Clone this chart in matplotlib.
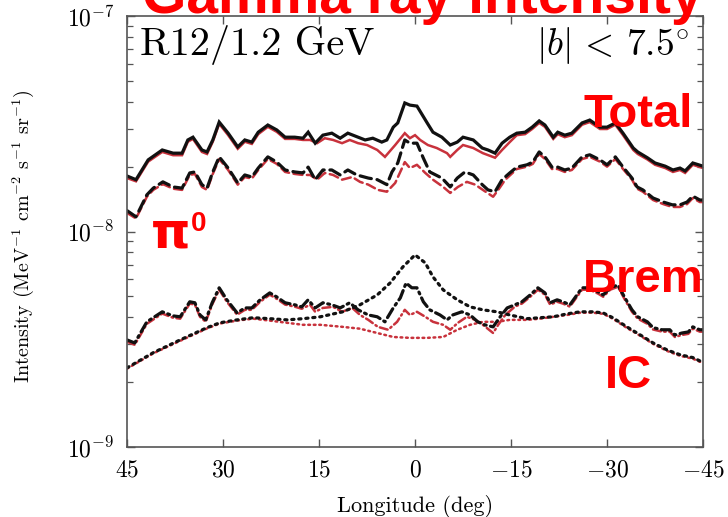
import matplotlib
matplotlib.use('Agg')
import matplotlib.pyplot as plt
import numpy as np

plt.rcParams['font.family'] = 'serif'
plt.rcParams['font.serif'] = ['cmr10', 'DejaVu Serif']
plt.rcParams['mathtext.fontset'] = 'cm'
plt.rcParams['axes.unicode_minus'] = False
plt.rcParams['axes.formatter.use_mathtext'] = True

SCALE = 1e-9  # values below are in units of 1e-9 MeV^-1 cm^-2 s^-1 sr^-1

# total, data (black solid)
tot_l = [45, 43.6, 41.7, 39.5, 37.8, 36.4, 35.5, 34.7, 33.3, 32.5,
	31.6, 30.6, 29.2, 27.7, 26.6, 25.5, 24.5, 23.0, 21.6, 20.3,
	18.8, 17.5, 16.7, 15.6, 14.4, 13.0, 11.7, 10.5, 8.9, 7.8,
	6.6, 5.2, 4.4, 3.4, 2.7, 1.6, 0.8, -0.3, -1.9, -2.8,
	-4.2, -5.5, -6.6, -7.5, -9.1, -10.5, -11.4, -12.5, -13.6, -14.8,
	-15.9, -17.2, -18.3, -19.4, -20.3, -21.6, -22.3, -23.4, -24.5, -26.1,
	-27.3, -28.9, -30.0, -31.3, -32.5, -34.1, -34.8, -36.3, -37.5, -39.1,
	-40.3, -41.4, -42.2, -43.4, -45]
tot = [18.1, 17.4, 21.5, 23.9, 23.1, 23.1, 26.6, 27.4, 23.9, 23.4,
	26.6, 32.2, 28.6, 24.7, 26.6, 26.0, 28.9, 31.2, 29.6, 27.4,
	27.4, 27.1, 28.9, 25.7, 28.0, 28.6, 27.1, 28.6, 27.4, 26.6,
	27.1, 26.0, 26.6, 30.5, 31.9, 39.5, 38.6, 38.2, 31.9, 28.9,
	27.4, 25.2, 26.0, 27.4, 26.6, 24.4, 23.9, 23.1, 25.7, 27.4,
	28.6, 28.9, 30.5, 32.6, 31.2, 27.4, 28.9, 28.0, 28.6, 31.9,
	32.9, 30.5, 30.5, 31.9, 28.6, 24.4, 23.4, 22.0, 20.8, 20.1,
	19.3, 19.7, 19.1, 20.8, 20.1]

# total, second model (red solid)
tot2_l = [45, 43.6, 41.7, 39.5, 37.8, 36.4, 35.5, 34.7, 33.3, 32.5, 31.6,
	30.6, 29.2, 27.7, 26.6, 25.5, 24.5, 23.0, 21.6, 20.3, 18.8, 17.5,
	16.4, 15.3, 14.1, 12.8, 11.4, 10.2, 8.9, 7.5, 5.9, 4.7, 3.1, 1.6, 0.8,
	0.0, -0.8, -2.0, -3.4, -5.0, -5.5, -6.6, -7.5, -9.1, -10.6, -12.5,
	-13.6, -14.8, -15.9, -17.2, -18.3, -19.4, -20.3, -21.6, -22.3, -23.4,
	-24.5, -26.1, -27.3, -28.9, -30.0, -31.3, -32.5, -34.1, -34.8, -36.3,
	-37.5, -39.1, -40.3, -41.4, -42.2, -43.4, -45]
tot2 = [17.7, 17.1, 21.1, 23.4, 22.6, 22.6, 26.1, 26.9, 23.4, 22.9, 26.1,
	31.6, 28.0, 24.2, 26.1, 25.5, 28.3, 30.6, 29.0, 26.9, 26.9, 26.6,
	26.6, 25.7, 27.1, 26.6, 25.7, 26.6, 25.7, 25.2, 23.9, 22.2, 25.2, 28.6, 27.1,
	28.0, 26.6, 25.2, 24.4, 23.1, 22.2, 23.9, 25.2, 24.4, 23.1, 22.0,
	23.9, 26.0, 28.0, 28.3, 29.9, 31.9, 30.6, 26.9, 28.3, 27.4,
	28.0, 31.3, 32.2, 29.9, 29.9, 31.3, 28.0, 23.9, 22.9, 21.6,
	20.4, 19.7, 18.9, 19.3, 18.7, 20.4, 19.7]

# pi0 (dashed)
pi_l = [45, 43.6, 41.9, 40.9, 39.4, 37.8, 36.4, 35.2, 34.4, 33.3,
	32.5, 31.6, 30.6, 29.2, 27.7, 26.6, 25.5, 24.5, 23.0, 21.6,
	20.3, 18.8, 17.5, 16.7, 15.6, 14.4, 13.0, 11.7, 10.5, 9.1,
	7.3, 5.9, 4.4, 3.6, 2.7, 1.6, 0.8, -0.3, -1.3, -2.3,
	-4.2, -5.5, -6.6, -7.8, -9.1, -10.5, -11.4, -12.5, -13.6, -14.8,
	-15.9, -17.5, -18.4, -19.4, -20.3, -21.4, -22.3, -23.4, -24.5, -26.1,
	-27.3, -28.9, -30.0, -31.3, -32.5, -33.9, -34.7, -35.6, -37.2, -38.8,
	-40.2, -41.4, -42.5, -43.4, -44.5, -45]
pi = [12.5, 11.7, 14.8, 15.9, 17.0, 16.1, 15.9, 18.7, 18.9, 16.5,
	15.9, 18.9, 22.2, 19.7, 16.8, 18.3, 17.9, 19.7, 22.2, 21.0,
	19.3, 18.9, 18.7, 19.9, 17.4, 19.3, 19.3, 18.3, 19.3, 18.3,
	17.7, 17.4, 16.5, 18.9, 20.8, 26.6, 25.7, 25.7, 21.9, 18.9,
	17.7, 16.1, 17.7, 18.9, 18.3, 16.5, 15.6, 15.3, 17.4, 18.7,
	19.9, 20.4, 21.0, 23.4, 22.2, 19.9, 19.9, 19.3, 19.7, 22.2,
	22.7, 21.5, 20.4, 22.2, 19.9, 17.7, 16.1, 15.6, 14.3, 13.7,
	13.3, 13.3, 13.7, 14.6, 14.0, 14.0]

pi2_l = [45, 43.6, 41.9, 40.9, 39.4, 37.8, 36.4, 35.2, 34.4, 33.3, 32.5,
	31.6, 30.6, 29.2, 27.7, 26.6, 25.5, 24.5, 23.0, 21.6, 20.3, 18.8, 17.5,
	16.4, 15.3, 14.1, 12.8, 11.4, 9.8, 8.6, 7.3, 5.8, 4.4, 3.1, 1.6, 0.8,
	-0.3, -1.6, -2.8, -4.4, -5.5, -6.7, -8.1, -9.4, -10.6, -12.2, -13.0, -14.1,
	-15.9, -17.5, -18.4, -19.4, -20.3, -21.4, -22.3, -23.4, -24.5, -26.1,
	-27.3, -28.9, -30.0, -31.3, -32.5, -33.9, -34.7, -35.6, -37.2, -38.8,
	-40.2, -41.4, -42.5, -43.4, -44.5, -45]
pi2 = [12.2, 11.5, 14.5, 15.6, 16.6, 15.8, 15.6, 18.3, 18.5, 16.1, 15.6,
	18.5, 21.7, 19.3, 16.5, 17.9, 17.6, 19.3, 21.7, 20.6, 18.9, 18.5, 18.3,
	18.3, 17.4, 18.7, 18.3, 17.4, 17.9, 17.0, 16.5, 15.6, 15.3, 16.8, 21.0, 19.7,
	20.4, 18.7, 17.4, 16.1, 15.1, 16.1, 17.0, 16.5, 15.6, 14.5, 15.6, 17.4,
	19.5, 20.0, 20.6, 22.9, 21.7, 19.5, 19.5, 18.9, 19.3, 21.7,
	22.2, 21.1, 20.0, 21.7, 19.5, 17.4, 15.8, 15.3, 14.0, 13.4,
	13.0, 13.0, 13.4, 14.3, 13.7, 13.7]

# bremsstrahlung (dash-dot)
brem_l = [45, 43.8, 41.9, 39.5, 37.8, 36.7, 35.2, 34.4, 33.6, 32.7,
	31.7, 30.6, 29.4, 27.8, 26.6, 25.5, 24.2, 22.7, 21.6, 20.3,
	18.8, 17.7, 16.7, 15.6, 14.4, 13.0, 11.7, 10.2, 8.9, 7.3,
	5.9, 4.7, 3.4, 2.3, 1.4, 0.5, -0.3, -1.3, -2.3, -3.9,
	-5.0, -5.9, -7.3, -8.6, -9.8, -10.9, -12.2, -13.3, -14.4, -15.6,
	-16.7, -18.0, -19.2, -20.3, -21.1, -22.2, -23.1, -24.2, -26.1, -27.3,
	-28.6, -29.4, -30.5, -31.7, -32.8, -33.9, -34.8, -36.3, -37.2, -38.6,
	-39.8, -40.6, -41.7, -42.7, -43.4, -44.5, -45]
brem = [3.14, 3.04, 3.81, 4.24, 4.06, 4.02, 4.72, 4.67, 4.10, 3.89,
	4.67, 5.48, 4.82, 4.19, 4.42, 4.42, 4.82, 5.19, 4.97, 4.67,
	4.57, 4.47, 4.82, 4.42, 4.67, 4.57, 4.42, 4.67, 4.33, 4.10,
	4.02, 3.81, 4.42, 4.92, 5.77, 5.48, 5.48, 4.72, 4.33, 4.10,
	3.89, 4.10, 4.24, 4.10, 3.81, 3.69, 3.61, 4.02, 4.42, 4.57,
	4.72, 5.08, 5.48, 5.19, 4.67, 4.82, 4.72, 4.57, 5.48, 5.48,
	5.25, 5.08, 5.48, 5.65, 4.92, 4.33, 4.02, 3.81, 3.58, 3.50,
	3.50, 3.31, 3.38, 3.42, 3.61, 3.50, 3.50]

brem2_l = [45, 43.8, 41.9, 39.5, 37.8, 36.7, 35.2, 34.4, 33.6, 32.7, 31.7,
	30.6, 29.4, 27.8, 26.6, 25.5, 24.2, 22.7, 21.6, 20.3, 18.8, 17.7,
	16.4, 15.6, 14.4, 12.8, 11.4, 9.8, 8.6, 7.3, 5.8, 4.2, 2.8, 1.6, 0.8,
	-0.3, -1.6, -2.8, -4.4, -5.5, -6.7, -8.1, -9.4, -10.6, -12.2, -13.0, -14.1,
	-15.6, -16.7, -18.0, -19.2, -20.3, -21.1, -22.2, -23.1, -24.2, -26.1,
	-27.3, -28.6, -29.4, -30.5, -31.7, -32.8, -33.9, -34.8, -36.3, -37.2,
	-38.6, -39.8, -40.6, -41.7, -42.7, -43.4, -44.5, -45]
brem2 = [3.08, 2.98, 3.73, 4.16, 3.98, 3.94, 4.63, 4.58, 4.02, 3.81, 4.58,
	5.37, 4.72, 4.11, 4.33, 4.33, 4.72, 5.09, 4.87, 4.58, 4.48, 4.38,
	4.57, 4.24, 4.42, 4.47, 4.24, 4.42, 4.10, 3.89, 3.61, 3.50, 3.81, 4.33, 4.10,
	4.24, 4.02, 3.81, 3.69, 3.50, 3.77, 4.02, 3.89, 3.69, 3.38, 3.69, 4.10,
	4.48, 4.63, 4.98, 5.37, 5.09, 4.58, 4.72, 4.63, 4.48, 5.37,
	5.37, 5.15, 4.98, 5.37, 5.54, 4.82, 4.24, 3.94, 3.73, 3.51,
	3.43, 3.43, 3.24, 3.31, 3.35, 3.54, 3.43, 3.43]

# inverse Compton (dotted)
ic_l = [45, 40.9, 36.7, 32.5, 30.5, 27.8, 25.3, 22.7, 20.0, 17.5,
	14.8, 11.3, 8.6, 5.9, 3.9, 1.9, 0, -1.6, -2.8, -4.4,
	-6.6, -8.6, -10.6, -12.8, -14.8, -17.5, -19.5, -21.6, -23.8, -25.8,
	-27.8, -29.4, -30.9, -33.1, -35.2, -37.2, -39.4, -41.4, -43.4, -45]
ic = [2.33, 2.74, 3.14, 3.58, 3.77, 3.89, 3.98, 3.94, 3.89, 3.94,
	4.02, 4.24, 4.57, 5.08, 5.77, 6.85, 7.79, 7.15, 6.16, 5.36,
	4.82, 4.47, 4.33, 4.24, 4.10, 3.94, 3.98, 4.02, 4.15, 4.24,
	4.24, 4.19, 3.98, 3.61, 3.31, 3.04, 2.82, 2.68, 2.60, 2.47]

ic2_l = [45, 40.9, 36.7, 32.5, 30.5, 27.8, 25.3, 22.7, 20.0, 17.5,
	14.8, 11.3, 8.6, 5.9, 3.4, 0.8, -1.9, -4.4, -6.6, -8.6,
	-10.6, -12.8, -14.8, -17.5, -19.5, -21.6, -23.8, -25.8, -27.8, -29.4,
	-30.9, -33.1, -35.2, -37.2, -39.4, -41.4, -43.4, -45]
ic2 = [2.31, 2.72, 3.11, 3.55, 3.74, 3.86, 3.94, 3.86, 3.77, 3.69,
	3.69, 3.61, 3.54, 3.38, 3.24, 3.21, 3.21, 3.24, 3.50, 3.69,
	3.81, 3.81, 3.89, 3.89, 3.94, 4.02, 4.10, 4.20, 4.20, 4.15,
	3.94, 3.57, 3.28, 3.01, 2.79, 2.65, 2.57, 2.45]

xticks = [45, 30, 15, 0, -15, -30, -45]
xticklabels = [r'$45$', r'$30$', r'$15$', r'$0$', r'$-15$', r'$-30$', r'$-45$']

BLACK = '#111111'
RED = '#c8323c'
DASH = (3.6, 1.8)
DASHDOT = (3.2, 1.4, 0.6, 1.4)
DOT = (0.7, 1.5)

fig = plt.figure(figsize=(7.28, 5.17), dpi=100)
ax = fig.add_axes([0.1745, 0.1354, 0.7912, 0.8336])

def curve(l, v, color, lw, dashes=None):
	kw = dict(color=color, lw=lw, solid_joinstyle='miter')
	if dashes is not None:
		kw['dashes'] = dashes
		kw['dash_capstyle'] = 'round'
	ax.plot(l, np.array(v) * SCALE, **kw)

curve(tot2_l, tot2, RED, 1.8)
curve(pi2_l, pi2, RED, 1.8, DASH)
curve(brem2_l, brem2, RED, 1.8, DASHDOT)
curve(ic2_l, ic2, RED, 1.8, DOT)

curve(tot_l, tot, BLACK, 2.3)
curve(pi_l, pi, BLACK, 2.3, DASH)
curve(brem_l, brem, BLACK, 2.3, DASHDOT)
curve(ic_l, ic, BLACK, 2.3, DOT)

ax.set_yscale('log')
ax.set_xlim(45, -45)
ax.set_ylim(1e-9, 1e-7)
ax.set_xticks(xticks)
ax.set_xticklabels(xticklabels)
ax.tick_params(which='both', direction='in', top=True, right=True, color='#555555')
ax.tick_params(which='major', length=6, width=1.0, labelsize=17, pad=9)
ax.tick_params(which='minor', length=4, width=0.9)
for s in ax.spines.values():
	s.set_color('#555555')
	s.set_linewidth(1.2)

ax.set_xlabel('Longitude (deg)', fontsize=16)
ax.xaxis.set_label_coords(0.5, -0.112)
ax.set_ylabel(r'Intensity (MeV$^{-1}$ cm$^{-2}$ s$^{-1}$ sr$^{-1}$)', fontsize=14.5)
ax.yaxis.set_label_coords(-0.158, 0.49)

ax.text(0.022, 0.909, 'R12/1.2 GeV', transform=ax.transAxes, fontsize=29, va='baseline', ha='left')
ax.text(0.976, 0.909, r'$|b|\,<\,7.5^{\circ}$', transform=ax.transAxes, fontsize=27, va='baseline', ha='right')

# red annotations on top of the figure
lab = dict(color='#ff0000', weight='bold', va='baseline')
fig.text(0.58, 0.975, 'Gamma ray intensity', fontsize=41, ha='center', family='Liberation Sans', **lab)
fig.text(0.801, 0.754, 'Total', fontsize=34, ha='left', family='Liberation Sans', **lab)
fig.text(0.801, 0.435, 'Brem', fontsize=34, ha='left', family='Liberation Sans', **lab)
fig.text(0.831, 0.2495, 'IC', fontsize=34, ha='left', family='Liberation Sans', **lab)
fig.text(0.207, 0.522, '\u03c0', fontsize=36, ha='left', family='DejaVu Sans', **lab)
fig.text(0.262, 0.553, '0', fontsize=20, ha='left', family='Liberation Sans', **lab)

fig.savefig('out.png', dpi=100)
